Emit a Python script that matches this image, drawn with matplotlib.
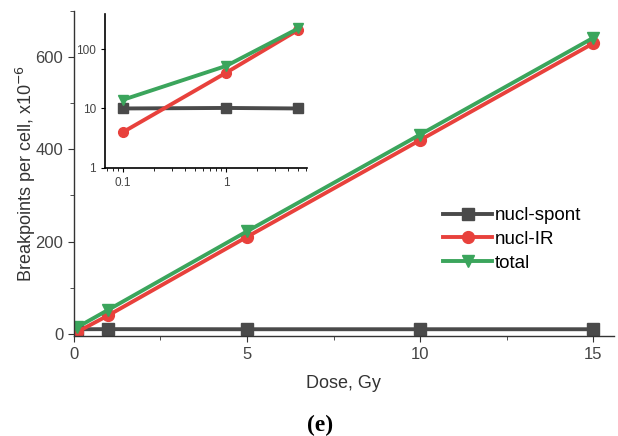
import matplotlib
matplotlib.use("Agg")
import matplotlib.pyplot as plt
from matplotlib.ticker import (MultipleLocator, LogLocator, FixedLocator,
                               FixedFormatter, NullFormatter)

plt.rcParams['font.family'] = ['Liberation Sans', 'DejaVu Sans']

# breakpoints per cell (x10^-6) vs dose
dose = [0.1, 1, 5, 10, 15]
nucl_spont = [10, 10.2, 10, 10, 10]
nucl_ir = [4, 40, 210, 420, 630]
total = [14, 52, 222, 432, 642]

# inset shows the low-dose part on log axes
inset_n = 3

series = [
    ("nucl-spont", nucl_spont, "#4a4a4a", "s"),
    ("nucl-IR", nucl_ir, "#e8413c", "o"),
    ("total", total, "#3ba55c", "v"),
]

fig = plt.figure(figsize=(6.18, 4.36), dpi=100)
ax = fig.add_axes([0.119, 0.229, 0.875, 0.746])

for name, vals, col, mk in series:
    ax.plot(dose, vals, color=col, marker=mk, markersize=8.5, linewidth=2.8,
            label=name, clip_on=True)

ax.set_xlim(0, 15.6)
ax.set_ylim(-5, 700)
ax.xaxis.set_major_locator(FixedLocator([0, 5, 10, 15]))
ax.xaxis.set_minor_locator(MultipleLocator(2.5))
ax.yaxis.set_major_locator(FixedLocator([0, 200, 400, 600]))
ax.yaxis.set_minor_locator(MultipleLocator(100))
for s in ("top", "right"):
    ax.spines[s].set_visible(False)
for s in ("left", "bottom"):
    ax.spines[s].set_color("#333333")
    ax.spines[s].set_linewidth(1.0)
ax.tick_params(which="both", direction="out", colors="#333333", labelsize=12,
               labelcolor="#444444")
ax.tick_params(which="major", length=4)
ax.tick_params(which="minor", length=3)
ax.set_xlabel("Dose, Gy", fontsize=13, color="#333333", labelpad=10)
ax.set_ylabel("Breakpoints per cell, x10$^{-6}$", fontsize=13, color="#333333",
              labelpad=-2)

ax.legend(loc="upper left", bbox_to_anchor=(0.696, 0.555), bbox_transform=fig.transFigure,
          frameon=False, fontsize=13.5, handlelength=2.6, handletextpad=0.15,
          labelspacing=0.35, borderpad=0.2)

# log-log inset
axi = fig.add_axes([0.170, 0.615, 0.327, 0.353])
for name, vals, col, mk in series:
    axi.plot(dose[:inset_n], vals[:inset_n], color=col, marker=mk, markersize=7,
             linewidth=2.8)
axi.set_xscale("log")
axi.set_yscale("log")
axi.set_xlim(0.067, 6.1)
axi.set_ylim(1, 390)
axi.xaxis.set_major_locator(FixedLocator([0.1, 1]))
axi.xaxis.set_major_formatter(FixedFormatter(["0.1", "1"]))
axi.xaxis.set_minor_locator(LogLocator(base=10, subs=range(2, 10)))
axi.xaxis.set_minor_formatter(NullFormatter())
axi.yaxis.set_major_locator(FixedLocator([1, 10, 100]))
axi.yaxis.set_major_formatter(FixedFormatter(["1", "10", "100"]))
axi.yaxis.set_minor_locator(FixedLocator([]))
for s in ("top", "right"):
    axi.spines[s].set_visible(False)
for s in ("left", "bottom"):
    axi.spines[s].set_linewidth(1.2)
axi.tick_params(which="both", direction="out", labelsize=8.5, labelcolor="#444444")
axi.tick_params(which="major", length=3)
axi.tick_params(which="minor", length=2)

fig.text(0.518, 0.0, "(e)", ha="center", va="bottom", fontsize=17,
         family=["Liberation Serif", "DejaVu Serif"], fontweight="bold")

fig.savefig("out.png", dpi=100)
